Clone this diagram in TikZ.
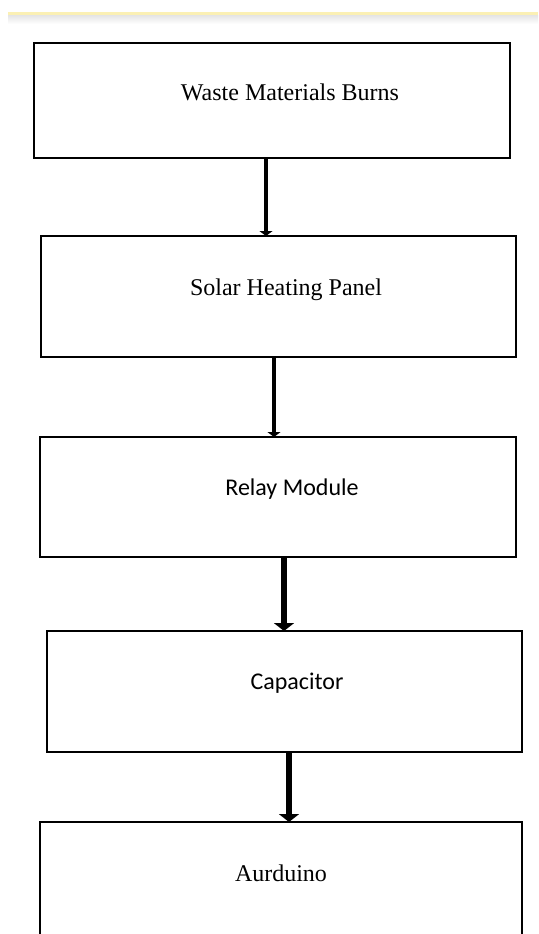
\documentclass[tikz,border=0pt]{standalone}
\usepackage{fontspec}
\setmainfont{Liberation Serif}
\newfontfamily\calfont{Carlito}
\usetikzlibrary{arrows.meta}
\definecolor{topline}{HTML}{FBF0B4}
\tikzset{
  box/.style={draw=black, line width=1.6pt, rectangle, inner sep=0pt, outer sep=0pt},
  lbl/.style={anchor=base, inner sep=0pt, font=\fontsize{24pt}{28pt}\selectfont},
  thinarr/.style={line width=4pt, -{Triangle[width=13pt,length=5pt]}},
  thickarr/.style={line width=6.5pt, -{Triangle[width=20pt,length=8pt]}}
}
\begin{document}
\begin{tikzpicture}[x=1pt,y=-1pt]
\useasboundingbox (0,0) rectangle (538,934);
\clip (0,0) rectangle (538,934);
% top rule with soft shadow
\fill[topline] (8,12.5) rectangle (538,15.5);
\shade[top color=black!10, bottom color=white] (8,15.5) rectangle (538,24);
% boxes
\node[box, minimum width=476pt, minimum height=115pt] (b1) at (272,100.5) {};
\node[box, minimum width=475pt, minimum height=121pt] (b2) at (278.5,296.5) {};
\node[box, minimum width=476pt, minimum height=120pt] (b3) at (278,497) {};
\node[box, minimum width=475pt, minimum height=121pt] (b4) at (284.5,691.5) {};
\node[box, minimum width=482pt, minimum height=138pt] (b5) at (281,891) {};
% labels
\node[lbl] (t1) at (290,100) {Waste Materials Burns};
\node[lbl] (t2) at (286,295) {Solar Heating Panel};
\node[lbl, font=\calfont\fontsize{24pt}{28pt}\selectfont] (t3) at (292,495) {Relay Module};
\node[lbl, font=\calfont\fontsize{24pt}{28pt}\selectfont] (t4) at (297,689) {Capacitor};
\node[lbl] (t5) at (281,881) {Aurduino};
% connectors
\coordinate (x1) at (266,0);
\coordinate (x2) at (274,0);
\coordinate (x3) at (284,0);
\coordinate (x4) at (289,0);
\draw[thinarr] (b1.south -| x1) -- (b2.north -| x1);
\draw[thinarr] (b2.south -| x2) -- (b3.north -| x2);
\draw[thickarr] (b3.south -| x3) -- (b4.north -| x3);
\draw[thickarr] (b4.south -| x4) -- (b5.north -| x4);
\end{tikzpicture}
\end{document}
